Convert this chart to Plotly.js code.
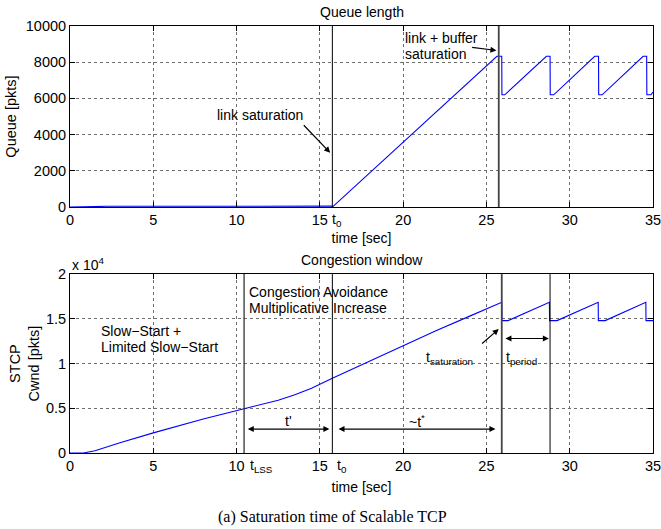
<!DOCTYPE html>
<html>
<head>
<meta charset="utf-8">
<script src="https://cdn.plot.ly/plotly-3.0.1.min.js"></script>
<style>body{margin:0;background:#fff;} #chart{width:661px;height:529px;}</style>
</head>
<body>
<div id="chart"></div>
<script>
// ---- Data ----
const xTicks = [0, 5, 10, 15, 20, 25, 30, 35];
const queueTicks = [0, 2000, 4000, 6000, 8000, 10000];
const queueTickLabels = ['0', '2000', '4000', '6000', '8000', '10000'];
const cwndTicks = [0, 5000, 10000, 15000, 20000];
const cwndTickLabels = ['0', '0.5', '1', '1.5', '2'];

const queueTime  = [0, 2, 2.2, 15.7, 15.75, 25.63, 25.92, 25.93, 26.1, 28.6, 28.82, 28.83, 29.04, 31.5, 31.73, 31.74, 31.95, 34.41, 34.62, 34.63, 34.88, 35];
const queueValue = [0, 0, 40, 50, 0, 8330, 8330, 6200, 6200, 8330, 8330, 6200, 6200, 8330, 8330, 6200, 6200, 8330, 8330, 6200, 6200, 6350];

const cwndTime  = [0, 0.8, 1.5, 2, 3, 5, 8, 10.45, 11.5, 12.5, 13.5, 14.5, 15.75, 18, 20, 22, 24, 25.92, 25.93, 26.3, 28.78, 28.79, 29.24, 31.71, 31.72, 32.13, 34.57, 34.58, 35];
const cwndValue = [0, 0, 250, 550, 1150, 2250, 3800, 4950, 5400, 5900, 6500, 7250, 8350, 10300, 12000, 13700, 15300, 16850, 14800, 14800, 16850, 14800, 14800, 16850, 14800, 14800, 16850, 14800, 14800];

// event markers (vertical lines)
const queueMarkerTimes = [15.75, 25.74];
const queueMarkerColors = ['#000000', '#444444'];
const queueMarkerWidths = [1, 1.8];
const cwndMarkerTimes = [10.45, 15.75, 25.92, 28.82];
const cwndMarkerColors = ['#222222', '#000000', '#444444', '#000000'];
const cwndMarkerWidths = [1.2, 1, 1.8, 1];

// ---- Styling ----
const FONT = 'Liberation Sans, Arial, sans-serif';
const blue = '#0000ff';
const GRID = '#6e6e6e';

function axisX(anchor, title, standoff) {
  return {
    anchor: anchor, range: [0, 35], tickvals: xTicks, ticks: 'inside', ticklen: 5,
    tickcolor: '#000', showline: true, linecolor: '#000', linewidth: 1, mirror: 'allticks',
    showgrid: true, gridcolor: GRID, griddash: 'dot', gridwidth: 1, zeroline: false,
    ticklabeloverflow: 'allow',
    tickfont: {family: FONT, size: 14.5, color: '#000'},
    title: {text: title, font: {family: FONT, size: 14, color: '#000'}, standoff: standoff}
  };
}

const traces = [
  {x: queueTime, y: queueValue, xaxis: 'x', yaxis: 'y', type: 'scatter', mode: 'lines',
   line: {color: blue, width: 1.1}, hoverinfo: 'skip'},
  {x: cwndTime, y: cwndValue, xaxis: 'x2', yaxis: 'y2', type: 'scatter', mode: 'lines',
   line: {color: blue, width: 1.1}, hoverinfo: 'skip'}
];

const shapes = [];
queueMarkerTimes.forEach((t, i) => shapes.push({type: 'line', xref: 'x', yref: 'y domain', x0: t, x1: t, y0: 0, y1: 1,
  line: {color: queueMarkerColors[i], width: queueMarkerWidths[i]}}));
cwndMarkerTimes.forEach((t, i) => shapes.push({type: 'line', xref: 'x2', yref: 'y2 domain', x0: t, x1: t, y0: 0, y1: 1,
  line: {color: cwndMarkerColors[i], width: cwndMarkerWidths[i]}}));

const tf = {family: FONT, size: 14, color: '#000'};
const arrowStyle = {showarrow: true, arrowhead: 2, arrowsize: 1, arrowwidth: 1.2, arrowcolor: '#000', text: ''};
const annotations = [
  // top plot
  {xref: 'x', yref: 'y', x: 11.4, y: 5100, text: 'link saturation', showarrow: false, font: tf},
  Object.assign({xref: 'x', yref: 'y', axref: 'x', ayref: 'y', x: 15.62, y: 3000, ax: 13.95, ay: 4600}, arrowStyle),
  {xref: 'x', yref: 'y', x: 20.0, y: 9330, text: 'link + buffer', xanchor: 'left', showarrow: false, font: tf},
  {xref: 'x', yref: 'y', x: 20.0, y: 8480, text: 'saturation', xanchor: 'left', showarrow: false, font: tf},
  Object.assign({xref: 'x', yref: 'y', axref: 'x', ayref: 'y', x: 25.6, y: 8650, ax: 24.05, ay: 8830}, arrowStyle),
  {xref: 'x', yref: 'y domain', x: 15.62, y: -0.01, yanchor: 'top', xanchor: 'left', text: 't<sub>0</sub>', showarrow: false, font: tf},
  // bottom plot
  {xref: 'paper', yref: 'paper', x: 0.0, y: 0.442, xanchor: 'left', text: 'x 10<sup>4</sup>', showarrow: false, font: {family: FONT, size: 14, color: '#000'}},
  {xref: 'x2', yref: 'y2', x: 10.6, y: 17950, xanchor: 'left', text: 'Congestion Avoidance', showarrow: false, font: tf},
  {xref: 'x2', yref: 'y2', x: 10.6, y: 16200, xanchor: 'left', text: 'Multiplicative Increase', showarrow: false, font: tf},
  {xref: 'x2', yref: 'y2', x: 1.75, y: 13600, xanchor: 'left', text: 'Slow\u2212Start +', showarrow: false, font: tf},
  {xref: 'x2', yref: 'y2', x: 1.75, y: 11800, xanchor: 'left', text: 'Limited Slow\u2212Start', showarrow: false, font: tf},
  {xref: 'x2', yref: 'y2', x: 21.25, y: 10600, xanchor: 'left', text: 't<sub>saturation</sub>', showarrow: false, font: tf},
  Object.assign({xref: 'x2', yref: 'y2', axref: 'x2', ayref: 'y2', x: 25.74, y: 13850, ax: 24.65, ay: 12100}, arrowStyle),
  {xref: 'x2', yref: 'y2', x: 26.05, y: 10600, xanchor: 'left', text: 't<sub>period</sub>', showarrow: false, font: tf},
  Object.assign({xref: 'x2', yref: 'y2', axref: 'x2', ayref: 'y2', x: 28.75, y: 12800, ax: 26.05, ay: 12800, arrowside: 'end+start'}, arrowStyle),
  {xref: 'x2', yref: 'y2', x: 13.1, y: 3600, text: "t'", showarrow: false, font: tf},
  Object.assign({xref: 'x2', yref: 'y2', axref: 'x2', ayref: 'y2', x: 15.57, y: 2670, ax: 10.58, ay: 2670, arrowside: 'end+start'}, arrowStyle),
  {xref: 'x2', yref: 'y2', x: 20.85, y: 3600, text: '~t<sup>*</sup>', showarrow: false, font: tf},
  Object.assign({xref: 'x2', yref: 'y2', axref: 'x2', ayref: 'y2', x: 25.54, y: 2670, ax: 16.03, ay: 2670, arrowside: 'end+start'}, arrowStyle),
  {xref: 'x2', yref: 'y2 domain', x: 10.68, y: -0.01, yanchor: 'top', xanchor: 'left', text: 't<sub>LSS</sub>', showarrow: false, font: tf},
  {xref: 'x2', yref: 'y2 domain', x: 15.9, y: -0.01, yanchor: 'top', xanchor: 'left', text: 't<sub>0</sub>', showarrow: false, font: tf},
  // titles
  {xref: 'paper', yref: 'paper', x: 0.5, y: 1.0, yanchor: 'bottom', yshift: 4, text: 'Queue length', showarrow: false, font: {family: FONT, size: 14, color: '#000'}},
  {xref: 'paper', yref: 'paper', x: 0.5, y: 0.419, yanchor: 'bottom', yshift: 4, text: 'Congestion window', showarrow: false, font: {family: FONT, size: 14, color: '#000'}},
  // caption
  {xref: 'paper', yref: 'paper', x: 0.45, y: -0.15, yanchor: 'middle', text: '(a) Saturation time of Scalable TCP', showarrow: false,
   font: {family: 'Liberation Serif, Times New Roman, serif', size: 16, color: '#000'}}
];

const layout = {
  width: 661, height: 529,
  margin: {l: 70, r: 8, t: 26, b: 76},
  paper_bgcolor: '#fff', plot_bgcolor: '#fff',
  showlegend: false,
  font: {family: FONT, color: '#000'},
  xaxis: axisX('y', 'time [sec]', 5.5),
  xaxis2: axisX('y2', 'time [sec]', 8.5),
  yaxis: {
    domain: [0.576, 1], anchor: 'x', range: [0, 10000], tickvals: queueTicks, ticktext: queueTickLabels, ticks: 'inside', ticklen: 5,
    tickcolor: '#000', showline: true, linecolor: '#000', mirror: 'allticks',
    showgrid: true, gridcolor: GRID, griddash: 'dot', zeroline: false,
    tickfont: {family: FONT, size: 14.5, color: '#000'},
    title: {text: 'Queue [pkts]', font: {family: FONT, size: 14.5, color: '#000'}, standoff: 5}
  },
  yaxis2: {
    domain: [0, 0.419], anchor: 'x2', range: [0, 20000], tickvals: cwndTicks, ticktext: cwndTickLabels, ticks: 'inside', ticklen: 5,
    tickcolor: '#000', showline: true, linecolor: '#000', mirror: 'allticks',
    showgrid: true, gridcolor: GRID, griddash: 'dot', zeroline: false,
    tickfont: {family: FONT, size: 14.5, color: '#000'},
    title: {text: 'STCP<br>Cwnd [pkts]', font: {family: FONT, size: 14.5, color: '#000'}, standoff: 2}
  },
  shapes: shapes,
  annotations: annotations
};

Plotly.newPlot('chart', traces, layout, {staticPlot: true, displayModeBar: false});
</script>
</body>
</html>
